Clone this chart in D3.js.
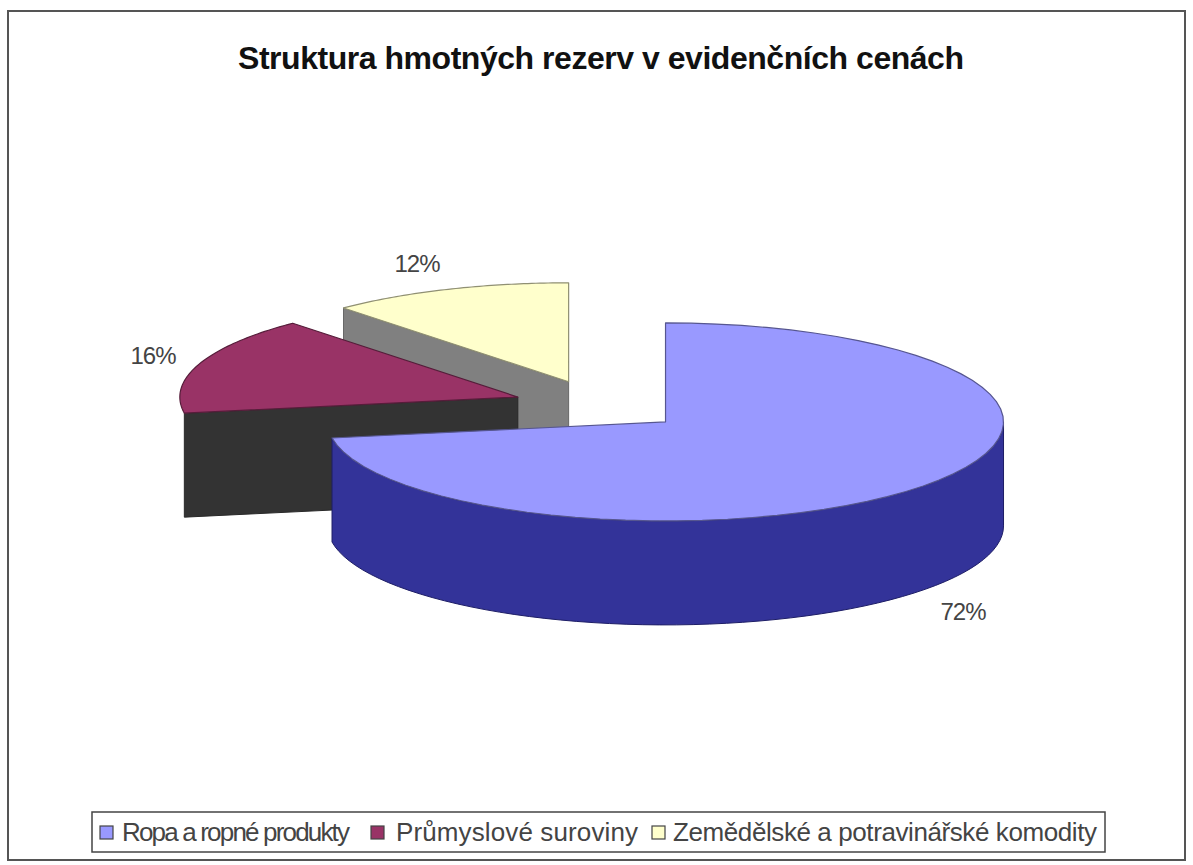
<!DOCTYPE html>
<html>
<head>
<meta charset="utf-8">
<script src="https://cdn.jsdelivr.net/npm/d3@7"></script>
<style>
  body { margin: 0; background: #fff; }
  svg { display: block; }
  text { font-family: "Liberation Sans", Arial, sans-serif; }
</style>
</head>
<body>
<div id="chart"></div>
<script>
const title = "Struktura hmotných rezerv v evidenčních cenách";
const categories = ["Ropa a ropné produkty", "Průmyslové suroviny", "Zemědělské a potravinářské komodity"];
const shares = [72.4, 16.0, 11.6];
const topColors = ["#9999ff", "#993366", "#ffffcc"];
const wallColors = ["#333399", "#333333", "#808080"];

const width = 1193, height = 865;
const cx = 599.5, cy = 405.5;   // pie centre before the slices are pulled out
const rx = 338, ry = 99;        // ellipse of the tilted pie
const depth = 104;
const explode = 86.6;

const svg = d3.select("#chart").append("svg")
  .attr("width", width)
  .attr("height", height);

// outer frame
svg.append("rect")
  .attr("x", 8).attr("y", 11)
  .attr("width", 1177).attr("height", 849)
  .attr("fill", "#fff")
  .attr("stroke", "#555")
  .attr("stroke-width", 2);

svg.append("text")
  .attr("x", 238).attr("y", 69)
  .attr("font-size", 32)
  .attr("font-weight", "bold")
  .attr("textLength", 726)
  .attr("lengthAdjust", "spacing")
  .attr("fill", "#111")
  .text(title);

const slices = d3.pie().sort(null).value(d => d)(shares)
  .map((d, i) => {
    const mid = (d.startAngle + d.endAngle) / 2;
    return {
      ...d, i,
      x: cx + explode * Math.sin(mid),
      y: cy - explode * Math.cos(mid) * ry / rx
    };
  });

const pt = (s, a, dy = 0) => [s.x + rx * Math.sin(a), s.y - ry * Math.cos(a) + dy];

// elliptical arc between two angles, as a list of points
function arcPoints(s, a0, a1, dy = 0) {
  return d3.range(0, 61).map(k => pt(s, a0 + (a1 - a0) * k / 60, dy));
}

const line = d3.line();

// back slices first, the big front slice last
const order = [2, 1, 0];
const g = svg.append("g").attr("stroke-linejoin", "round");

order.forEach(i => {
  const s = slices[i];
  const centre = [s.x, s.y], centreLow = [s.x, s.y + depth];

  // cut face on the start side, seen for the slices left of the middle
  if (i !== 0) {
    const a = pt(s, s.startAngle), b = pt(s, s.startAngle, depth);
    g.append("path")
      .attr("d", line([a, centre, centreLow, b]) + "Z")
      .attr("fill", wallColors[i])
      .attr("stroke", d3.color(wallColors[i]).darker(0.6));
  } else {
    // outer wall of the front slice, from the right edge round to its end
    const a0 = Math.PI / 2, a1 = s.endAngle;
    const wall = arcPoints(s, a0, a1).concat(arcPoints(s, a1, a0, depth));
    g.append("path")
      .attr("d", line(wall) + "Z")
      .attr("fill", wallColors[i])
      .attr("stroke", "#1d1d66");
  }

  const top = [centre].concat(arcPoints(s, s.startAngle, s.endAngle));
  g.append("path")
    .attr("d", line(top) + "Z")
    .attr("fill", topColors[i])
    .attr("stroke", d3.color(topColors[i]).darker(1.6))
    .attr("stroke-width", 1.2);
});

// percentage labels
const labelPos = [[963, 620], [153, 364], [417, 272]];
svg.append("g").selectAll("text")
  .data(shares)
  .enter().append("text")
  .attr("x", (d, i) => labelPos[i][0])
  .attr("y", (d, i) => labelPos[i][1])
  .attr("text-anchor", "middle")
  .attr("font-size", 24)
  .attr("letter-spacing", -1)
  .attr("fill", "#444")
  .text(d => Math.round(d) + "%");

// legend
svg.append("rect")
  .attr("x", 92).attr("y", 812)
  .attr("width", 1013).attr("height", 40)
  .attr("fill", "#fff")
  .attr("stroke", "#444")
  .attr("stroke-width", 1.5);

const legendX = [100, 371, 652];
const legendW = [228, 242, 424];
const legendGap = [22, 25, 21];
const legend = svg.append("g").selectAll("g")
  .data(categories)
  .enter().append("g")
  .attr("transform", (d, i) => `translate(${legendX[i]},832)`);

legend.append("rect")
  .attr("x", 0).attr("y", -6)
  .attr("width", 13).attr("height", 13)
  .attr("fill", (d, i) => topColors[i])
  .attr("stroke", "#444")
  .attr("stroke-width", 1.2);

legend.append("text")
  .attr("x", (d, i) => legendGap[i]).attr("y", 9)
  .attr("font-size", 26)
  .attr("textLength", (d, i) => legendW[i])
  .attr("lengthAdjust", "spacing")
  .attr("fill", "#444")
  .text(d => d);
</script>
</body>
</html>
